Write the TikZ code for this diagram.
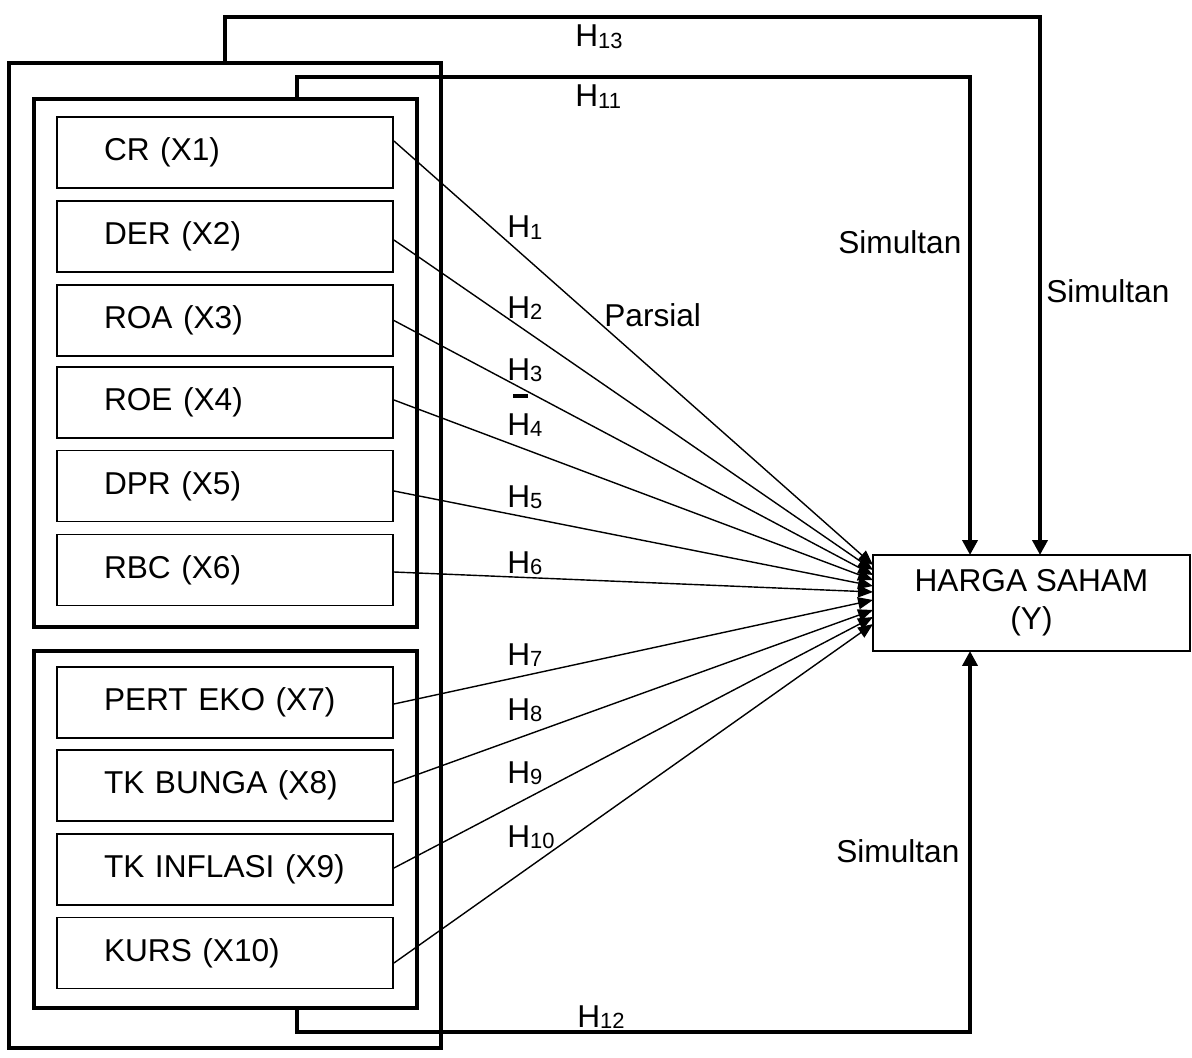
\documentclass[tikz,border=0pt]{standalone}
\usepackage{fontspec}
\setmainfont{Liberation Sans}
\usetikzlibrary{arrows.meta}

\newcommand{\hyp}[1]{H\raisebox{-0.6pt}{\fontsize{12.5}{12}\selectfont #1}}

\tikzset{
  frame/.style={draw, line width=2.3pt, inner sep=0pt, outer sep=0pt},
  var/.style={draw, line width=1.1pt, minimum width=6.72cm, minimum height=1.42cm,
    inner xsep=0.94cm, text width=4.84cm, align=left},
  lbl/.style={anchor=base west, inner sep=0pt},
  par/.style={line width=0.8pt, -{Triangle[length=0.3cm, width=0.24cm]}},
  sim/.style={line width=2.3pt, -{Triangle[length=0.3cm, width=0.3cm]}}
}

\begin{document}
\begin{tikzpicture}[x=0.02cm, y=-0.02cm,
  every node/.append style={font=\fontsize{18}{21.5}\selectfont}]
  \useasboundingbox (0,0) rectangle (1192,1057);

  \node[frame, minimum width=8.64cm, minimum height=19.7cm] at (225,555.5) (outer) {};
  \node[frame, minimum width=7.66cm, minimum height=10.56cm] at (225.5,363) (grp1) {};
  \node[frame, minimum width=7.66cm, minimum height=7.14cm] at (225.5,829.5) (grp2) {};

  \node[var] at (225,152.5) (x1) {CR (X1)};
  \node[var] at (225,236.5) (x2) {DER (X2)};
  \node[var] at (225,320.5) (x3) {ROA (X3)};
  \node[var] at (225,402.5) (x4) {ROE (X4)};
  \node[var] at (225,486) (x5) {DPR (X5)};
  \node[var] at (225,570) (x6) {RBC (X6)};
  \node[var] at (225,702.5) (x7) {PERT EKO (X7)};
  \node[var] at (225,785.5) (x8) {TK BUNGA (X8)};
  \node[var] at (225,869.5) (x9) {TK INFLASI (X9)};
  \node[var] at (225,953) (x10) {KURS (X10)};

  \node[draw, line width=1.1pt, minimum width=6.34cm, minimum height=1.92cm,
    align=center, outer sep=0pt] at (1031.5,603) (harga) {HARGA SAHAM\\(Y)};

  \draw[par] ([yshift=0.23cm]x1.east) -- ([yshift=0.76cm]harga.west);
  \draw[par] ([yshift=-0.07cm]x2.east) -- ([yshift=0.66cm]harga.west);
  \draw[par] (x3.east) -- ([yshift=0.56cm]harga.west);
  \draw[par] ([yshift=0.05cm]x4.east) -- ([yshift=0.46cm]harga.west);
  \draw[par] ([yshift=-0.1cm]x5.east) -- ([yshift=0.34cm]harga.west);
  \draw[par] ([yshift=-0.04cm]x6.east) -- ([yshift=0.22cm]harga.west);
  \draw[par] ([yshift=-0.03cm]x7.east) -- ([yshift=0.06cm]harga.west);
  \draw[par] ([yshift=0.05cm]x8.east) -- ([yshift=-0.14cm]harga.west);
  \draw[par] ([yshift=0.03cm]x9.east) -- ([yshift=-0.28cm]harga.west);
  \draw[par] ([yshift=-0.2cm]x10.east) -- ([yshift=-0.42cm]harga.west);

  \draw[sim] ([xshift=4.32cm]outer.north west) -- ++(0,-46) -| ([xshift=3.34cm]harga.north west);
  \draw[sim] ([xshift=5.26cm]grp1.north west) -- ++(0,-22) -| ([xshift=1.94cm]harga.north west);
  \draw[sim] ([xshift=5.26cm]grp2.south west) -- ++(0,24) -| ([xshift=1.94cm]harga.south west);

  \node[lbl] at (575,47) (h13) {\hyp{13}};
  \node[lbl] at (575,107) (h11) {\hyp{11}};
  \node[lbl] at (507,238) (h1) {\hyp{1}};
  \node[lbl] at (507,318) (h2) {\hyp{2}};
  \node[lbl] at (507,380) (h3) {\hyp{3}};
  \node[lbl] at (507,435) (h4) {\hyp{4}};
  \node[lbl] at (507,507) (h5) {\hyp{5}};
  \node[lbl] at (507,573) (h6) {\hyp{6}};
  \node[lbl] at (507,665) (h7) {\hyp{7}};
  \node[lbl] at (507,720) (h8) {\hyp{8}};
  \node[lbl] at (507,783) (h9) {\hyp{9}};
  \node[lbl] at (507,847) (h10) {\hyp{10}};
  \node[lbl] at (577,1027) (h12) {\hyp{12}};

  \node[lbl] at (604,326) (parsial) {Parsial};
  \node[lbl] at (838,254) (sim1) {Simultan};
  \node[lbl] at (1046,302) (sim2) {Simultan};
  \node[lbl] at (836,862) (sim3) {Simultan};

  \fill (513,394) rectangle (528,398);
\end{tikzpicture}
\end{document}
